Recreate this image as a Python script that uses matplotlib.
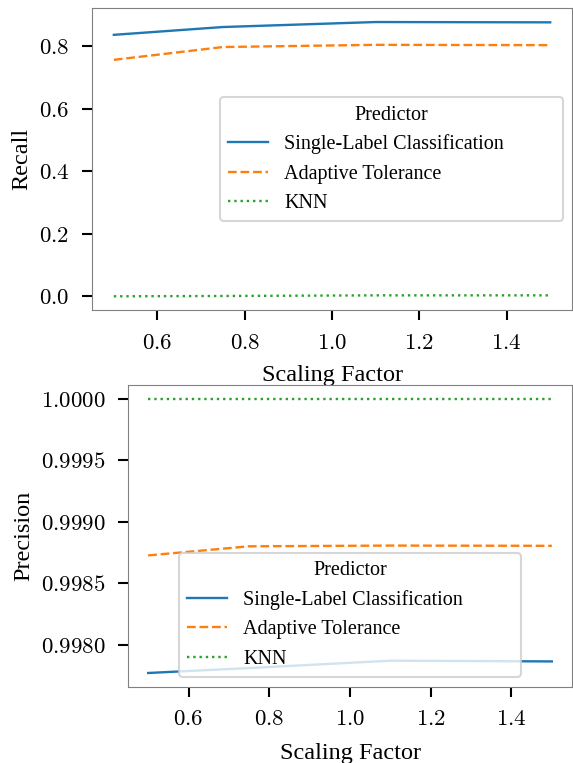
import matplotlib
matplotlib.use("Agg")
import matplotlib.pyplot as plt
from matplotlib.ticker import FuncFormatter

# scaling factors used in the experiment
scaling = [0.5, 0.75, 1.1, 1.5]

recall_single = [0.837, 0.862, 0.878, 0.877]
recall_adaptive = [0.757, 0.798, 0.805, 0.804]
recall_knn = [0.0, 0.001, 0.003, 0.003]

precision_single = [0.99777, 0.99781, 0.99787, 0.997864]
precision_adaptive = [0.998726, 0.998800, 0.998806, 0.998804]
precision_knn = [1.0, 1.0, 1.0, 1.0]

predictors = ["Single-Label Classification", "Adaptive Tolerance", "KNN"]
colors = ["#1f77b4", "#ff7f0e", "#2ca02c"]
styles = ["-", "--", ":"]

plt.rcParams["font.family"] = ["Liberation Serif", "DejaVu Serif"]
plt.rcParams["mathtext.fontset"] = "cm"


def style_axes(ax, fmt):
    for sp in ax.spines.values():
        sp.set_color("#808080")
        sp.set_linewidth(0.8)
    ax.tick_params(axis="both", which="major", length=7.2, width=1.5,
                   color="black", pad=9, labelsize=16.5)
    ax.xaxis.set_major_formatter(FuncFormatter(lambda v, p: f"${v:.1f}$"))
    ax.yaxis.set_major_formatter(FuncFormatter(lambda v, p: fmt.format(v)))


def draw(ax, series, ylabel, anchor, loc, xpad):
    for vals, name, c, ls in zip(series, predictors, colors, styles):
        ax.plot(scaling, vals, color=c, linestyle=ls, linewidth=1.7, label=name)
    ax.set_xlabel("Scaling Factor", fontsize=17.5, labelpad=xpad)
    ax.set_ylabel(ylabel, fontsize=17.5, labelpad=5)
    leg = ax.legend(title="Predictor", loc=loc, bbox_to_anchor=anchor,
                    mode="expand", borderaxespad=0, fontsize=14.5,
                    title_fontsize=14.5, framealpha=0.8, fancybox=True)
    leg.get_frame().set_edgecolor("#cccccc")
    leg.get_frame().set_linewidth(1.5)


fig = plt.figure(figsize=(5.73, 7.63), dpi=100)
ax1 = fig.add_axes([0.1606, 0.5937, 0.8377, 0.3954])
ax2 = fig.add_axes([0.2234, 0.1, 0.7749, 0.3954])

draw(ax1, [recall_single, recall_adaptive, recall_knn], "Recall",
     (0.2667, 0.5, 0.714, 0), "center left", 8)
style_axes(ax1, "${:.1f}$")

draw(ax2, [precision_single, precision_adaptive, precision_knn], "Precision",
     (0.1149, 0.0331, 0.7694, 0), "lower left", 9)
style_axes(ax2, "${:.4f}$")

fig.savefig("out.png", dpi=100)
